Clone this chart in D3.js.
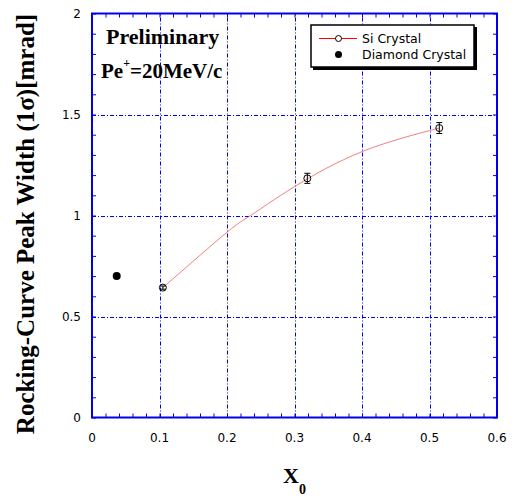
<!DOCTYPE html>
<html>
<head>
<meta charset="utf-8">
<script src="https://cdn.jsdelivr.net/npm/d3@7"></script>
<style>
  body { margin: 0; background: #fff; }
  svg { display: block; }
</style>
</head>
<body>
<svg id="chart" width="517" height="502"></svg>
<script>
// Si crystal measurements
var siX = [0.105, 0.319, 0.5145];
var siY = [0.643, 1.184, 1.433];
var siErr = [0.008, 0.025, 0.027];

// Diamond crystal measurement
var diamondX = [0.0366];
var diamondY = [0.70];

// fit curve
var fitX = [0.105, 0.2, 0.235, 0.3, 0.4, 0.5145];
var fitY = [0.643, 0.917, 1.0, 1.143, 1.316, 1.433];

var xTicks = [0, 0.1, 0.2, 0.3, 0.4, 0.5, 0.6];
var yTicks = [0, 0.5, 1, 1.5, 2];
var xGrid = [0.1, 0.2, 0.3, 0.4, 0.5];
var yGrid = [0.5, 1, 1.5];

var svg = d3.select("#chart");
var blue = "#0000ee";
var serif = "Liberation Serif, Times New Roman, serif";
var sans = "DejaVu Sans, sans-serif";

var x = d3.scaleLinear().domain([0, 0.6]).range([92, 497]);
var y = d3.scaleLinear().domain([0, 2]).range([417.5, 13.5]);

// grid
var grid = svg.append("g")
  .attr("stroke", blue)
  .attr("stroke-width", 1)
  .attr("stroke-dasharray", "4,2,1,2");

grid.selectAll("line.gx")
  .data(xGrid)
  .enter()
  .append("line")
  .attr("x1", function(d) { return Math.round(x(d)) + 0.5; })
  .attr("x2", function(d) { return Math.round(x(d)) + 0.5; })
  .attr("y1", y(0))
  .attr("y2", y(2));

grid.selectAll("line.gy")
  .data(yGrid)
  .enter()
  .append("line")
  .attr("y1", function(d) { return Math.round(y(d)) + 0.5; })
  .attr("y2", function(d) { return Math.round(y(d)) + 0.5; })
  .attr("x1", x(0))
  .attr("x2", x(0.6));

// axes, ticks inward on all four sides
var xAxisB = d3.axisTop(x).tickValues(d3.range(0, 0.601, 0.02)).tickSize(4).tickFormat("");
var xAxisT = d3.axisBottom(x).tickValues(d3.range(0, 0.601, 0.02)).tickSize(4).tickFormat("");
var yAxisL = d3.axisRight(y).tickValues(d3.range(0, 2.001, 0.1)).tickSize(4).tickFormat("");
var yAxisR = d3.axisLeft(y).tickValues(d3.range(0, 2.001, 0.1)).tickSize(4).tickFormat("");

[[xAxisB, "translate(0," + y(0) + ")"],
 [xAxisT, "translate(0," + y(2) + ")"],
 [yAxisL, "translate(" + x(0) + ",0)"],
 [yAxisR, "translate(" + x(0.6) + ",0)"]].forEach(function(a) {
  var g = svg.append("g").attr("transform", a[1]).call(a[0]);
  g.select(".domain").remove();
  g.selectAll(".tick line").attr("stroke", blue).attr("stroke-width", 1);
});

// frame
svg.append("rect")
  .attr("x", x(0))
  .attr("y", y(2))
  .attr("width", x(0.6) - x(0))
  .attr("height", y(0) - y(2))
  .attr("fill", "none")
  .attr("stroke", blue)
  .attr("stroke-width", 2);

// tick labels
svg.append("g")
  .selectAll("text")
  .data(xTicks)
  .enter()
  .append("text")
  .attr("x", function(d) { return x(d); })
  .attr("y", 442)
  .attr("text-anchor", "middle")
  .attr("font-family", sans)
  .attr("font-size", 12)
  .text(function(d) { return d3.format("")(d); });

svg.append("g")
  .selectAll("text")
  .data(yTicks)
  .enter()
  .append("text")
  .attr("x", 81)
  .attr("y", function(d) { return y(d) + 4; })
  .attr("text-anchor", "end")
  .attr("font-family", sans)
  .attr("font-size", 12)
  .text(function(d) { return d3.format("")(d); });

// axis titles
svg.append("text")
  .attr("transform", "translate(34,224) rotate(-90)")
  .attr("text-anchor", "middle")
  .attr("font-family", serif)
  .attr("font-weight", "bold")
  .attr("font-size", 25)
  .text("Rocking-Curve Peak Width (1σ)[mrad]");

var xt = svg.append("text")
  .attr("x", 283)
  .attr("y", 483)
  .attr("font-family", serif)
  .attr("font-weight", "bold")
  .attr("font-size", 22);
xt.append("tspan").text("X");
xt.append("tspan").attr("dy", 11).attr("font-size", 14).text("0");

// annotations
svg.append("text")
  .attr("x", 106)
  .attr("y", 44)
  .attr("font-family", serif)
  .attr("font-weight", "bold")
  .attr("font-size", 22)
  .text("Preliminary");

var pe = svg.append("text")
  .attr("x", 101)
  .attr("y", 78)
  .attr("font-family", serif)
  .attr("font-weight", "bold")
  .attr("font-size", 21);
pe.append("tspan").text("Pe");
pe.append("tspan").attr("dy", -11).attr("font-size", 12).text("+");
pe.append("tspan").attr("dy", 11).text("=20MeV/c");

// fit curve
var line = d3.line()
  .x(function(d) { return x(d[0]); })
  .y(function(d) { return y(d[1]); })
  .curve(d3.curveNatural);

svg.append("path")
  .datum(d3.zip(fitX, fitY))
  .attr("d", line)
  .attr("fill", "none")
  .attr("stroke", "#f07070")
  .attr("stroke-width", 0.9);

// Si points with error bars
var si = svg.append("g")
  .selectAll("g")
  .data(d3.zip(siX, siY, siErr))
  .enter()
  .append("g");

si.append("line")
  .attr("x1", function(d) { return x(d[0]); })
  .attr("x2", function(d) { return x(d[0]); })
  .attr("y1", function(d) { return y(d[1] - d[2]); })
  .attr("y2", function(d) { return y(d[1] + d[2]); })
  .attr("stroke", "#000");

[-1, 1].forEach(function(s) {
  si.append("line")
    .attr("x1", function(d) { return x(d[0]) - 3; })
    .attr("x2", function(d) { return x(d[0]) + 3; })
    .attr("y1", function(d) { return y(d[1] + s * d[2]); })
    .attr("y2", function(d) { return y(d[1] + s * d[2]); })
    .attr("stroke", "#000");
});

si.append("circle")
  .attr("cx", function(d) { return x(d[0]); })
  .attr("cy", function(d) { return y(d[1]); })
  .attr("r", 3.5)
  .attr("fill", "none")
  .attr("stroke", "#000");

// diamond point
svg.append("g")
  .selectAll("circle")
  .data(d3.zip(diamondX, diamondY))
  .enter()
  .append("circle")
  .attr("cx", function(d) { return x(d[0]); })
  .attr("cy", function(d) { return y(d[1]); })
  .attr("r", 4)
  .attr("fill", "#000");

// legend
var lg = svg.append("g");
lg.append("rect")
  .attr("x", 313).attr("y", 27)
  .attr("width", 164).attr("height", 43)
  .attr("fill", "#000");
lg.append("rect")
  .attr("x", 311).attr("y", 25)
  .attr("width", 163).attr("height", 42)
  .attr("fill", "#fff")
  .attr("stroke", "#000")
  .attr("stroke-width", 1.5);
lg.append("line")
  .attr("x1", 319).attr("x2", 357)
  .attr("y1", 38.5).attr("y2", 38.5)
  .attr("stroke", "#ff0000");
lg.append("circle")
  .attr("cx", 338.5).attr("cy", 38.5).attr("r", 3)
  .attr("fill", "#fff").attr("stroke", "#000");
lg.append("circle")
  .attr("cx", 338.5).attr("cy", 54.5).attr("r", 3.5)
  .attr("fill", "#000");
lg.append("text")
  .attr("x", 362).attr("y", 43)
  .attr("font-family", sans)
  .attr("font-size", 12.5)
  .text("Si Crystal");
lg.append("text")
  .attr("x", 362).attr("y", 59)
  .attr("font-family", sans)
  .attr("font-size", 12.5)
  .text("Diamond Crystal");
</script>
</body>
</html>
